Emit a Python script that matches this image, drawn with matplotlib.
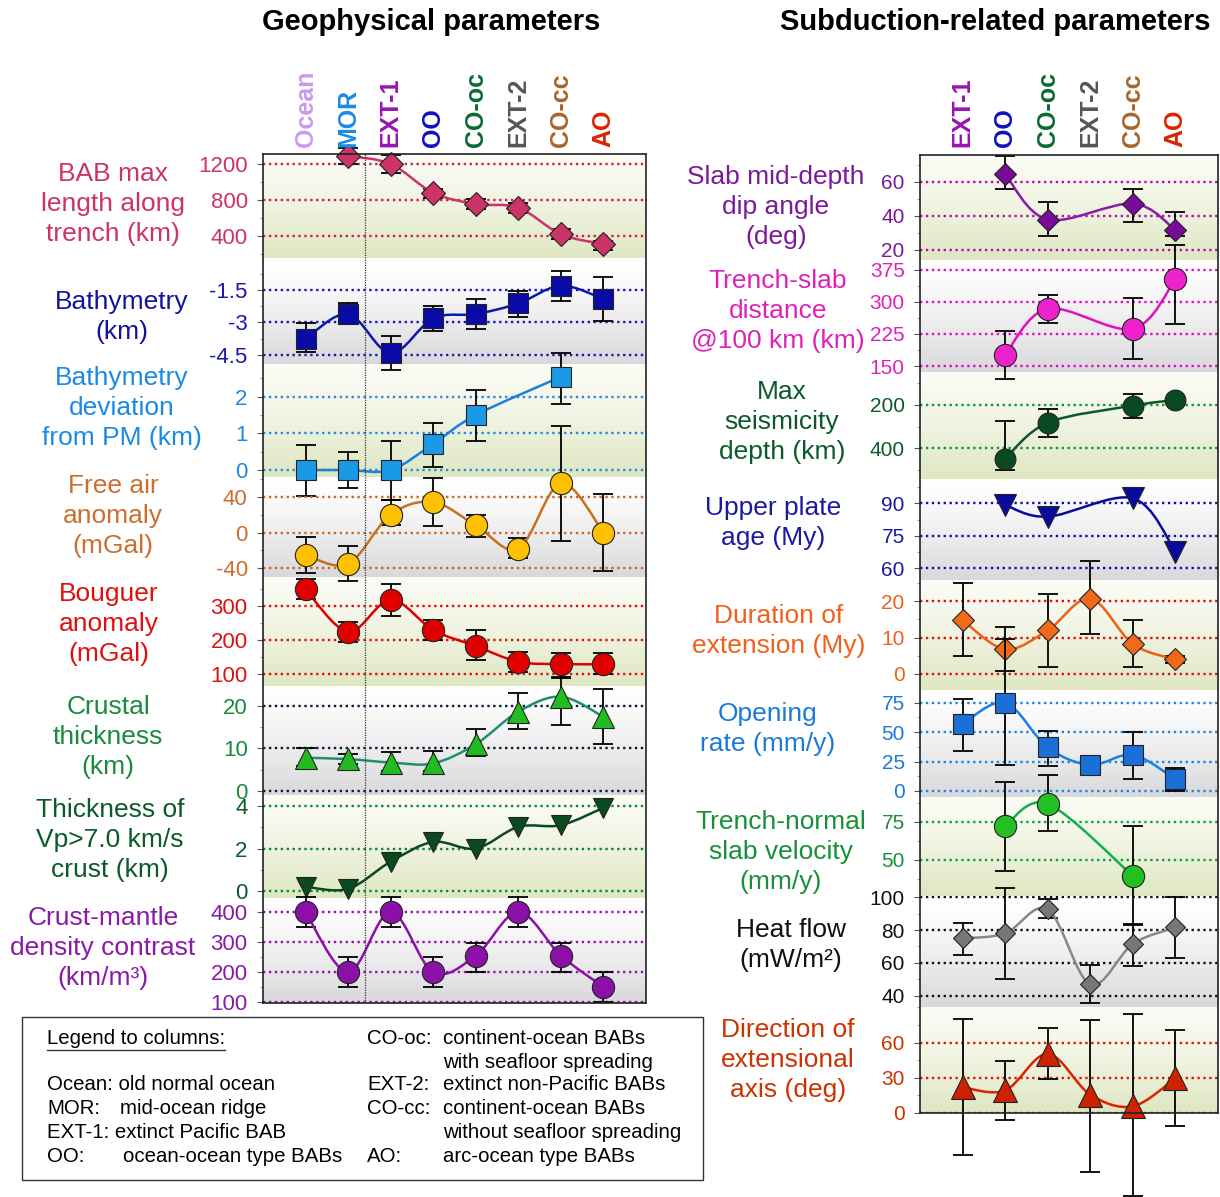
import matplotlib.pyplot as plt
import numpy as np
import matplotlib.transforms as mtransforms
from matplotlib.path import Path
from matplotlib.patches import PathPatch, Rectangle
from matplotlib.lines import Line2D
from matplotlib.ticker import AutoMinorLocator

plt.rcParams['font.family'] = ['Liberation Sans', 'DejaVu Sans']
plt.rcParams['axes.unicode_minus'] = False

nan = np.nan

# column groups
geo_cols = ['Ocean', 'MOR', 'EXT-1', 'OO', 'CO-oc', 'EXT-2', 'CO-cc', 'AO']
sub_cols = ['EXT-1', 'OO', 'CO-oc', 'EXT-2', 'CO-cc', 'AO']
col_colors = {'Ocean': '#c99af0', 'MOR': '#1a8ae6', 'EXT-1': '#9a12b4', 'OO': '#1010c0',
              'CO-oc': '#0b6a32', 'EXT-2': '#555555', 'CO-cc': '#a8652c', 'AO': '#dd2200'}

# geophysical parameters (value, lower, upper)
bab_len = [nan, 1290, 1200, 880, 755, 715, 420, 310]
bab_len_lo = [nan, 1200, 1100, 820, 700, 660, 363, 248]
bab_len_hi = [nan, 1380, 1300, 925, 810, 771, 482, 350]

bathy = [-3.76, -2.61, -4.42, -2.81, -2.61, -2.12, -1.30, -1.92]
bathy_lo = [-4.36, -3.08, -5.19, -3.38, -3.30, -2.73, -2.00, -2.93]
bathy_hi = [-3.03, -2.11, -3.62, -2.22, -1.93, -1.53, -0.61, -0.91]

bathy_dev = [0, 0, 0, 0.71, 1.50, nan, 2.54, nan]
bathy_dev_lo = [-0.71, -0.5, -0.82, 0.09, 0.80, nan, 1.80, nan]
bathy_dev_hi = [0.68, 0.5, 0.79, 1.29, 2.18, nan, 3.2, nan]

free_air = [-25, -35, 20, 34, 8, -18, 55, 0]
free_air_lo = [-45, -54, 8, 7, -5, -28, -9, -43]
free_air_hi = [-5, -15, 36, 61, 20, -6, 119, 43]

bouguer = [349, 224, 318, 229, 182, 136, 129, 129]
bouguer_lo = [321, 195, 271, 200, 141, 107, 92, 100]
bouguer_hi = [378, 253, 364, 259, 229, 165, 162, 162]

crust = [7.8, 7.5, 6.7, 6.5, 11.0, 18.6, 22.1, 17.4]
crust_lo = [6.0, 6.4, 4.8, 4.6, 8.2, 14.5, 15.5, 11.0]
crust_hi = [10.0, 8.6, 9.1, 9.5, 14.5, 22.9, 26.5, 24.0]

vp7_thick = [0.2, 0.1, 1.38, 2.31, 2.0, 3.02, 3.1, 3.92]

density = [400, 200, 400, 200, 255, 400, 255, 151]
density_lo = [350, 151, 350, 151, 200, 350, 200, 100]
density_hi = [449, 249, 449, 249, 298, 449, 298, 200]

# subduction-related parameters
dip = [nan, 64.6, 37.8, nan, 47.2, 31.6]
dip_lo = [nan, 55.5, 27.9, nan, 36.2, 28.3]
dip_hi = [nan, 75.4, 48.0, nan, 56.0, 42.1]

trench_dist = [nan, 176, 284, nan, 237, 353]
trench_dist_lo = [nan, 120, 251, nan, 166, 249]
trench_dist_hi = [nan, 233, 315, nan, 309, 432]

seis_depth = [nan, 448, 282, nan, 203, 177]
seis_depth_lo = [nan, 274, 220, nan, 151, nan]
seis_depth_hi = [nan, 500, 346, nan, 262, nan]

plate_age = [nan, 89.2, 83.8, nan, 92.3, 67.7]

duration = [14.8, 6.8, 12.0, 20.7, 8.2, 4.0]
duration_lo = [4.9, 0.8, 2.0, 10.9, 2.0, 3.1]
duration_hi = [25.1, 13.0, 21.9, 31.0, 14.8, 5.0]

opening = [56.9, 75, 37, 22.2, 30.7, 9.9]
opening_lo = [34, 22.2, 21.3, nan, 10.3, 0]
opening_hi = [77.9, 129, 51, nan, 50, 19.7]

slab_vel = [nan, 72.2, 86.6, nan, 39.6, nan]
slab_vel_lo = [nan, 42.8, 69, nan, 8, nan]
slab_vel_hi = [nan, 101, 105.5, nan, 72.2, nan]

heat = [74.9, 78, 92.6, 46.9, 71.6, 81.6]
heat_lo = [64.8, 50, 87.2, 35.4, 58, 63.2]
heat_hi = [84.3, 105.5, 99, 58.7, 83.4, 100.4]

ext_dir = [22, 19.2, 50.4, 15.6, 5.7, 29.7]
ext_dir_lo = [-35.4, -6.3, 28.9, -50, -71, -10.8]
ext_dir_hi = [80, 44.7, 72.8, 79.3, 84.4, 70.8]

W, H = 1220, 1197
fig = plt.figure(figsize=(W / 100, H / 100), dpi=100)


def box(x0, y0, x1, y1):
    return [x0 / W, 1 - y1 / H, (x1 - x0) / W, (y1 - y0) / H]


def smooth_path(x, y):
    # Catmull-Rom style curve through the points, as cubic Bezier segments
    pts = np.column_stack([x, y])
    n = len(pts)
    verts, codes = [pts[0]], [Path.MOVETO]
    for i in range(n - 1):
        p0, p1 = pts[max(i - 1, 0)], pts[i]
        p2, p3 = pts[i + 1], pts[min(i + 2, n - 1)]
        verts += [p1 + (p2 - p0) / 6, p2 - (p3 - p1) / 6, p2]
        codes += [Path.CURVE4] * 3
    return Path(verts, codes)


def backgrounds(x0, x1, edges):
    ax = fig.add_axes(box(x0, edges[0], x1, edges[-1]))
    ax.axis('off')
    ax.set_xlim(0, 1)
    ax.set_ylim(edges[-1], edges[0])
    t = np.linspace(0, 1, 80)[:, None, None]
    for k in range(len(edges) - 1):
        if k % 2 == 0:
            top, bot = np.array([0.985, 0.985, 0.96]), np.array([0.87, 0.905, 0.76])
        else:
            top, bot = np.array([1.0, 1.0, 1.0]), np.array([0.85, 0.85, 0.86])
        img = top + (bot - top) * t ** 1.3
        ax.imshow(img, extent=(0, 1, edges[k + 1], edges[k]), aspect='auto', origin='upper')


def band(x0, x1, ytop, ybot, xlim, vals, lo, hi, ylim, ticks, grid_c, lab_c,
         marker, mfc, line_c, ms, labelsize):
    ax = fig.add_axes(box(x0, ytop, x1, ybot))
    ax.patch.set_visible(False)
    for s in ax.spines.values():
        s.set_visible(False)
    ax.set_xlim(*xlim)
    ax.set_ylim(*ylim)
    ax.set_xticks([])
    ax.set_yticks(ticks)
    ax.set_yticklabels(['{:g}'.format(t) for t in ticks])
    ax.yaxis.set_minor_locator(AutoMinorLocator(2))
    ax.tick_params(axis='y', length=4, width=0.8, color='#555555', pad=7,
                   labelsize=labelsize, labelcolor=lab_c)
    ax.tick_params(axis='y', which='minor', length=2, width=0.6, color='#888888')
    for t in ticks:
        ax.axhline(t, color=grid_c, ls=(0, (1, 1.5)), lw=1.7, zorder=1)

    x = np.arange(len(vals))
    v = np.asarray(vals, float)
    ok = ~np.isnan(v)
    ax.add_patch(PathPatch(smooth_path(x[ok], v[ok]), fill=False, edgecolor=line_c,
                           lw=1.8, zorder=3, clip_on=False))
    if lo is not None:
        l, h = np.asarray(lo, float), np.asarray(hi, float)
        m = ok & ~np.isnan(l)
        eb = ax.errorbar(x[m], v[m], yerr=[v[m] - l[m], h[m] - v[m]], fmt='none',
                         ecolor='black', elinewidth=1.3, capsize=7.5, capthick=1.3, zorder=2)
        for art in list(eb.lines[1]) + list(eb.lines[2]):
            art.set_clip_on(False)
    ax.plot(x[ok], v[ok], ls='none', marker=marker, ms=ms, mfc=mfc, mec='#222222',
            mew=0.8, zorder=4, clip_on=False)
    return ax


def frame(x0, x1, ytop, ybot, xlim):
    ax = fig.add_axes(box(x0, ytop, x1, ybot))
    ax.patch.set_visible(False)
    ax.set_xlim(*xlim)
    ax.set_ylim(0, 1)
    ax.set_xticks([])
    ax.set_yticks([])
    for s in ax.spines.values():
        s.set_linewidth(1.2)
        s.set_color('#222222')
    return ax


# ---- left panel: geophysical parameters ----
gx0, gx1 = 263, 646
gedges = [154, 258, 364, 477, 577, 686, 795, 898, 1003]
gxlim = (-1.0, 8.0)
backgrounds(gx0, gx1, gedges)

geo_bands = [
    (bab_len, bab_len_lo, bab_len_hi, (156, 1311), [400, 800, 1200], '#d02050', '#cc3366', 'D', '#cc3366', '#cc3366', 12.5),
    (bathy, bathy_lo, bathy_hi, (-4.92, -0.02), [-4.5, -3, -1.5], '#1a1ab0', '#1a1aa8', 's', '#0a0aa8', '#0a1ab0', 14),
    (bathy_dev, bathy_dev_lo, bathy_dev_hi, (-0.19, 2.89), [0, 1, 2], '#2a8ae0', '#1a8ae6', 's', '#1a9ae6', '#1a80e0', 14),
    (free_air, free_air_lo, free_air_hi, (-49.7, 62), [-40, 0, 40], '#c8692a', '#cc6f2e', 'o', '#ffc000', '#c87020', 16),
    (bouguer, bouguer_lo, bouguer_hi, (64.7, 385), [100, 200, 300], '#e01010', '#e01010', 'o', '#e00000', '#e00000', 16),
    (crust, crust_lo, crust_hi, (-0.9, 24.6), [0, 10, 20], '#0a1a3a', '#1a8a3c', '^', '#22bb22', '#1f8f6f', 15.5),
    (vp7_thick, None, None, (-0.33, 4.52), [0, 2, 4], '#0a8a2a', '#0b5a2a', 'v', '#0a4a1e', '#0a4a1e', 14.5),
    (density, density_lo, density_hi, (97.4, 447), [100, 200, 300, 400], '#9a10b0', '#8a1aa8', 'o', '#8a10a8', '#8a10a8', 16),
]
for k, (v, lo, hi, yl, tk, gc, lc, mk, mf, lnc, ms) in enumerate(geo_bands):
    band(gx0, gx1, gedges[k], gedges[k + 1], gxlim, v, lo, hi, yl, tk, gc, lc, mk, mf, lnc, ms, 16)

gframe = frame(gx0, gx1, gedges[0], gedges[-1], gxlim)
gframe.axvline(1.4, color='#333333', ls=(0, (1, 1)), lw=0.9)

# ---- right panel: subduction-related parameters ----
sx0, sx1 = 920, 1218
sedges = [155, 260, 372, 479, 580, 690, 797, 896, 1007, 1113]
sxlim = (-1.0, 6.0)
backgrounds(sx0, sx1, sedges)

sub_bands = [
    (dip, dip_lo, dip_hi, (14, 75.8), [20, 40, 60], '#b010b0', '#7a1a9a', 'D', '#7a0a9a', '#8a1aa8', 11),
    (trench_dist, trench_dist_lo, trench_dist_hi, (136, 398), [150, 225, 300, 375], '#e010c0', '#dd22bb', 'o', '#ee22cc', '#e010c0', 16),
    (seis_depth, seis_depth_lo, seis_depth_hi, (542, 47.6), [200, 400], '#0a9a2a', '#0b5a2a', 'o', '#0a4a22', '#0a5a28', 15),
    (plate_age, None, None, (54.6, 101.2), [60, 75, 90], '#1010b0', '#1a1aa0', 'v', '#0a0aa0', '#0a0aa0', 16),
    (duration, duration_lo, duration_hi, (-4.4, 25.8), [0, 10, 20], '#e01010', '#f0601a', 'D', '#f06a1a', '#f06010', 11.5),
    (opening, opening_lo, opening_hi, (-5.1, 85.8), [0, 25, 50, 75], '#1a88e0', '#1a7ad8', 's', '#1a70d8', '#1a80e0', 14),
    (slab_vel, slab_vel_lo, slab_vel_hi, (26.5, 91.1), [50, 75], '#10a040', '#18903a', 'o', '#22c022', '#10b050', 16),
    (heat, heat_lo, heat_hi, (33.1, 100.8), [40, 60, 80, 100], '#111111', '#111111', 'D', '#777777', '#888888', 10.5),
    (ext_dir, ext_dir_lo, ext_dir_hi, (0, 90.3), [0, 30, 60], '#dd1a00', '#cc3300', '^', '#cc2200', '#dd2200', 17),
]
for k, (v, lo, hi, yl, tk, gc, lc, mk, mf, lnc, ms) in enumerate(sub_bands):
    band(sx0, sx1, sedges[k], sedges[k + 1], sxlim, v, lo, hi, yl, tk, gc, lc, mk, mf, lnc, ms, 15)

sframe = frame(sx0, sx1, sedges[0], sedges[-1], sxlim)

# ---- column headers ----
for fr, cols in ((gframe, geo_cols), (sframe, sub_cols)):
    trans = mtransforms.blended_transform_factory(fr.transData, fig.transFigure)
    for i, name in enumerate(cols):
        fr.text(i, 1 - 147 / H, name, transform=trans, rotation=90, ha='center',
                va='bottom', fontsize=18, fontweight='bold', color=col_colors[name])

# ---- titles ----
fig.text(431 / W, 1 - 22 / H, 'Geophysical parameters', ha='center', va='center',
         fontsize=21, fontweight='bold')
fig.text(995 / W, 1 - 22 / H, 'Subduction-related parameters', ha='center', va='center',
         fontsize=21, fontweight='bold')

# ---- parameter names ----
geo_names = [
    ('BAB max\nlength along\ntrench (km)', 113, 204, '#cc3366'),
    ('Bathymetry\n(km)', 122, 317, '#1212a0'),
    ('Bathymetry\ndeviation\nfrom PM (km)', 122, 408, '#1a8ae6'),
    ('Free air\nanomaly\n(mGal)', 113, 516, '#cc6f2e'),
    ('Bouguer\nanomaly\n(mGal)', 109, 624, '#e01010'),
    ('Crustal\nthickness\n(km)', 108, 737, '#1a8a3c'),
    ('Thickness of\nVp>7.0 km/s\ncrust (km)', 110, 840, '#0b5a2a'),
    ('Crust-mantle\ndensity contrast\n(km/m³)', 103, 948, '#8a1aa8'),
]
sub_names = [
    ('Slab mid-depth\ndip angle\n(deg)', 776, 207, '#7a1a9a'),
    ('Trench-slab\ndistance\n@100 km (km)', 778, 311, '#dd22bb'),
    ('Max\nseismicity\ndepth (km)', 782, 422, '#0b5a2a'),
    ('Upper plate\nage (My)', 773, 523, '#1a1aa0'),
    ('Duration of\nextension (My)', 779, 631, '#f0601a'),
    ('Opening\nrate (mm/y)', 768, 729, '#1a7ad8'),
    ('Trench-normal\nslab velocity\n(mm/y)', 781, 852, '#18903a'),
    ('Heat flow\n(mW/m²)', 791, 945, '#111111'),
    ('Direction of\nextensional\naxis (deg)', 788, 1060, '#cc3300'),
]
for txt, x, y, c in geo_names + sub_names:
    fig.text(x / W, 1 - y / H, txt, ha='center', va='center', multialignment='center',
             fontsize=19, color=c, linespacing=1.3)

# ---- legend box ----
fig.add_artist(Rectangle((22 / W, 1 - 1180 / H), (703 - 22) / W, (1180 - 1017) / H,
                         transform=fig.transFigure, fill=False, ec='#333333', lw=1.0))
rows = [1039, 1062, 1085, 1109, 1132, 1156]
leg_left = [(47, 'Legend to columns:'), None, (47, 'Ocean: old normal ocean'),
            (47, 'MOR:'), (47, 'EXT-1: extinct Pacific BAB'), (47, 'OO:')]
leg_left_desc = [None, None, None, (120, 'mid-ocean ridge'), None, (123, 'ocean-ocean type BABs')]
leg_right = ['CO-oc:', None, 'EXT-2:', 'CO-cc:', None, 'AO:']
leg_right_desc = ['continent-ocean BABs', 'with seafloor spreading', 'extinct non-Pacific BABs',
                  'continent-ocean BABs', 'without seafloor spreading', 'arc-ocean type BABs']
title_txt = None
for y, a, b, c, d in zip(rows, leg_left, leg_left_desc, leg_right, leg_right_desc):
    if a is not None:
        t = fig.text(a[0] / W, 1 - y / H, a[1], ha='left', va='center', fontsize=14.7)
        if title_txt is None:
            title_txt = t
    if b is not None:
        fig.text(b[0] / W, 1 - y / H, b[1], ha='left', va='center', fontsize=14.7)
    if c is not None:
        fig.text(367 / W, 1 - y / H, c, ha='left', va='center', fontsize=14.7)
    fig.text(443 / W, 1 - y / H, d, ha='left', va='center', fontsize=14.7)

# underline the legend heading
bb = title_txt.get_window_extent(renderer=fig.canvas.get_renderer())
bb = bb.transformed(fig.transFigure.inverted())
fig.add_artist(Line2D([bb.x0, bb.x1], [bb.y0 - 0.001, bb.y0 - 0.001],
                      transform=fig.transFigure, color='#333333', lw=1.0))

fig.savefig('out.png', dpi=100)
